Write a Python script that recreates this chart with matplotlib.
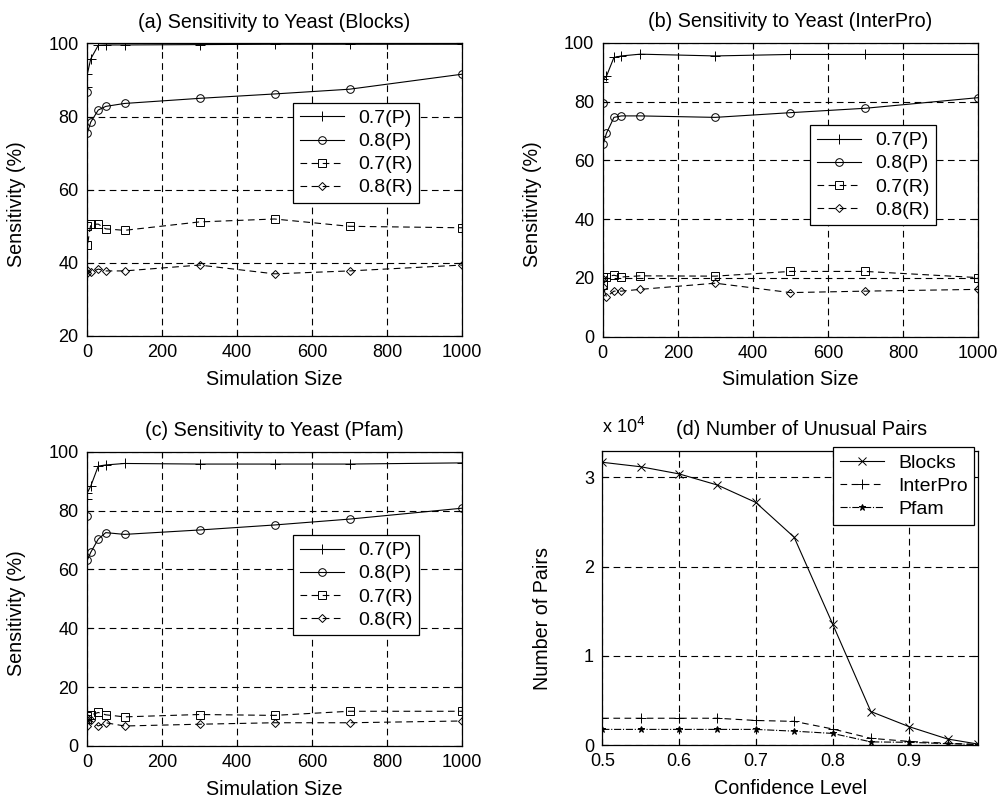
import matplotlib
matplotlib.use('Agg')
import matplotlib.pyplot as plt
from matplotlib.ticker import FuncFormatter

plt.rcParams['font.family'] = ['Liberation Sans', 'DejaVu Sans']

# simulation sizes (x axis of panels a-c)
sim_sizes = [0, 1, 10, 30, 50, 100, 300, 500, 700, 1000]

blocks_p07 = [88.0, 91.7, 95.8, 99.5, 99.6, 99.6, 99.7, 99.8, 99.8, 99.8]
blocks_p08 = [86.8, 75.6, 78.5, 81.8, 82.8, 83.6, 85.0, 86.2, 87.5, 91.6]
blocks_r07 = [50.2, 44.8, 50.5, 50.6, 49.3, 48.9, 51.2, 52.0, 50.0, 49.6]
blocks_r08 = [38.0, 37.2, 37.4, 38.3, 37.8, 37.8, 39.4, 37.0, 37.8, 39.4]

interpro_p07 = [86.5, 87.5, 88.6, 95.0, 95.5, 96.1, 95.5, 96.0, 96.0, 96.0]
interpro_p08 = [79.6, 65.4, 69.2, 74.6, 75.1, 75.1, 74.6, 76.2, 77.7, 81.3]
interpro_r07 = [20.3, 17.6, 20.4, 20.9, 20.3, 20.7, 20.6, 22.2, 22.2, 20.1]
interpro_r08 = [19.5, 16.8, 13.6, 15.5, 15.5, 16.1, 18.2, 15.0, 15.5, 16.1]

pfam_p07 = [84.0, 86.1, 88.3, 95.1, 95.5, 96.0, 95.8, 95.8, 95.8, 96.2]
pfam_p08 = [78.3, 63.2, 65.8, 70.3, 72.5, 71.9, 73.4, 75.1, 77.1, 80.8]
pfam_r07 = [10.3, 9.2, 10.5, 11.4, 10.6, 9.9, 10.7, 10.4, 11.8, 11.8]
pfam_r08 = [9.5, 6.8, 8.8, 6.8, 7.9, 6.8, 7.4, 7.9, 7.9, 8.5]

series_labels = ['0.7(P)', '0.8(P)', '0.7(R)', '0.8(R)']

# panel d
conf = [0.5, 0.55, 0.6, 0.65, 0.7, 0.75, 0.8, 0.85, 0.9, 0.95, 0.99]
blocks_pairs = [31700, 31200, 30400, 29150, 27200, 23300, 13600, 3750, 2050, 670, 100]
interpro_pairs = [3000, 3000, 3000, 3000, 2750, 2650, 1800, 750, 400, 200, 50]
pfam_pairs = [1750, 1750, 1750, 1750, 1750, 1550, 1300, 350, 300, 150, 50]

W, H = 1001, 798
fig = plt.figure(figsize=(W / 100, H / 100), dpi=100)

FS_TICK = 13
FS_TEXT = 14.2
FS_LEG = 14


def make_ax(left, top, right, bottom):
    return fig.add_axes([left / W, 1 - bottom / H, (right - left) / W, (bottom - top) / H])


grid_kw = dict(color='k', linestyle=(0, (6, 4)), linewidth=0.8)


def style(ax):
    ax.grid(True, **grid_kw)
    ax.set_axisbelow(True)
    ax.tick_params(direction='in', top=True, right=True, labelsize=FS_TICK,
                   length=4, width=0.8)
    ax.tick_params(axis='x', pad=6)
    ax.tick_params(axis='y', pad=6)
    for s in ax.spines.values():
        s.set_linewidth(0.9)


def add_legend(ax, anchor):
    leg = ax.legend(loc='upper left', bbox_to_anchor=anchor, fontsize=FS_LEG,
                    fancybox=False, framealpha=1, edgecolor='k', handlelength=2.3,
                    borderpad=0.35, labelspacing=0.28, handletextpad=0.7,
                    borderaxespad=0)
    leg.get_frame().set_linewidth(0.9)


styles = [dict(ls='-', marker='+', ms=7),
          dict(ls='-', marker='o', ms=5.5, mfc='none'),
          dict(ls=(0, (6, 4)), marker='s', ms=5.5, mfc='none'),
          dict(ls=(0, (6, 4)), marker='D', ms=4, mfc='none')]


def sens_panel(ax, data, title, ylim, yticks, leg_anchor):
    for vals, st, lab in zip(data, styles, series_labels):
        ax.plot(sim_sizes, vals, color='k', lw=0.8, mew=0.7, label=lab, **st)
    ax.set_xlim(0, 1000)
    ax.set_ylim(*ylim)
    ax.set_xticks([0, 200, 400, 600, 800, 1000])
    ax.set_yticks(yticks)
    style(ax)
    ax.set_title(title, fontsize=FS_TEXT, pad=11)
    ax.set_xlabel('Simulation Size', fontsize=FS_TEXT, labelpad=6)
    ax.set_ylabel('Sensitivity (%)', fontsize=FS_TEXT)
    ax.yaxis.set_label_coords(-0.163, 0.45)
    add_legend(ax, leg_anchor)


ax_a = make_ax(87, 43.5, 462, 336)
sens_panel(ax_a, [blocks_p07, blocks_p08, blocks_r07, blocks_r08],
           '(a) Sensitivity to Yeast (Blocks)', (20, 100), [20, 40, 60, 80, 100], (0.549, 0.797))

ax_b = make_ax(602.7, 42.7, 978, 336.7)
sens_panel(ax_b, [interpro_p07, interpro_p08, interpro_r07, interpro_r08],
           '(b) Sensitivity to Yeast (InterPro)', (0, 100), [0, 20, 40, 60, 80, 100], (0.552, 0.72))

ax_c = make_ax(87, 451.7, 462, 746)
sens_panel(ax_c, [pfam_p07, pfam_p08, pfam_r07, pfam_r08],
           '(c) Sensitivity to Yeast (Pfam)', (0, 100), [0, 20, 40, 60, 80, 100], (0.549, 0.717))

ax_d = make_ax(602.3, 450.7, 978.3, 745)
ax_d.plot(conf, blocks_pairs, color='k', lw=0.8, ls='-', marker='x', ms=6, mew=0.7, label='Blocks')
ax_d.plot(conf, interpro_pairs, color='k', lw=0.8, ls=(0, (6, 4)), marker='+', ms=7, mew=0.7, label='InterPro')
ax_d.plot(conf, pfam_pairs, color='k', lw=0.8, ls='-.', marker='*', ms=5, mew=0.7, label='Pfam')
ax_d.set_xlim(0.5, 0.99)
ax_d.set_ylim(0, 33000)
ax_d.set_xticks([0.5, 0.6, 0.7, 0.8, 0.9])
ax_d.set_yticks([0, 10000, 20000, 30000])
ax_d.yaxis.set_major_formatter(FuncFormatter(lambda v, p: '%d' % round(v / 1e4)))
style(ax_d)
ax_d.set_title('(d) Number of Unusual Pairs', fontsize=FS_TEXT, pad=11, x=0.53)
ax_d.text(0.0, 1.045, r'x 10$^{4}$', transform=ax_d.transAxes, fontsize=FS_TICK, va='bottom')
ax_d.set_xlabel('Confidence Level', fontsize=FS_TEXT, labelpad=6)
ax_d.set_ylabel('Number of Pairs', fontsize=FS_TEXT)
ax_d.yaxis.set_label_coords(-0.133, 0.43)
add_legend(ax_d, (0.613, 1.012))

fig.savefig('out.png', dpi=100)
